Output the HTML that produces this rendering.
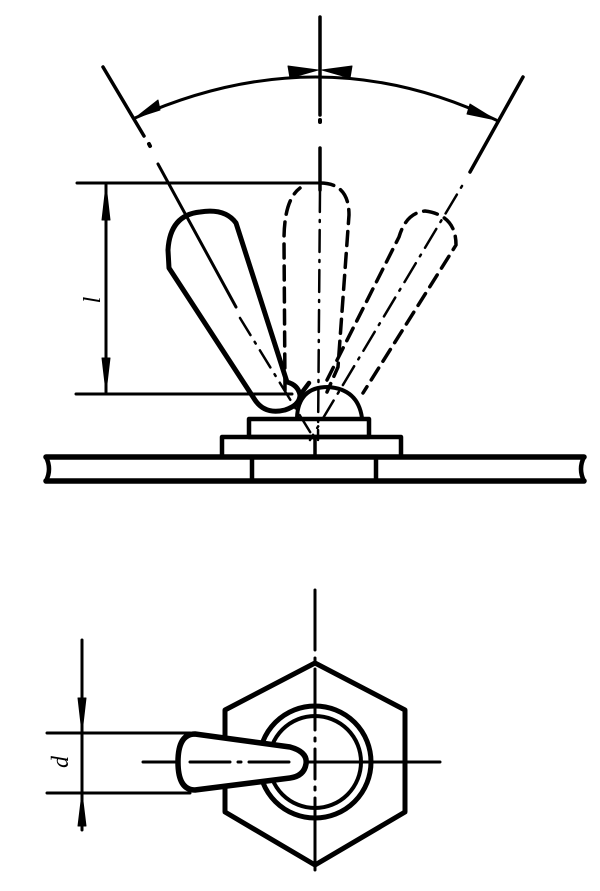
<!DOCTYPE html>
<html><head><meta charset="utf-8"><style>html,body{margin:0;padding:0;background:#fff}svg{display:block}</style></head>
<body>
<svg width="600" height="891" viewBox="0 0 600 891" xmlns="http://www.w3.org/2000/svg" fill="none" stroke="#000" stroke-linecap="round" stroke-linejoin="round">
<line x1="320" y1="17" x2="320" y2="115" stroke-width="3.5"/>
<line x1="320" y1="120" x2="320" y2="132" stroke-width="4" stroke-dasharray="2 14"/>
<line x1="320" y1="148" x2="320" y2="190" stroke-width="3.5"/>
<line x1="320" y1="190" x2="318" y2="440" stroke-width="2.5" stroke-dasharray="22 8 2 8"/>
<line x1="103" y1="67" x2="144" y2="136" stroke-width="3.5"/>
<line x1="149" y1="144" x2="150" y2="146" stroke-width="4"/>
<line x1="158" y1="164" x2="236" y2="307" stroke-width="3"/>
<line x1="240" y1="318" x2="315" y2="440" stroke-width="2.5" stroke-dasharray="20 8 2 8"/>
<line x1="523" y1="77" x2="470" y2="172" stroke-width="3.5"/>
<line x1="462" y1="186" x2="310" y2="440" stroke-width="2.5" stroke-dasharray="2 8 22 8"/>
<path d="M135 118 Q320 35 496 120" stroke-width="3"/>
<polygon points="135,118 158,100 160,110" fill="#000" stroke-width="1"/>
<polygon points="318,70 288,66 290,78" fill="#000" stroke-width="1"/>
<polygon points="322,70 352,66 350,78" fill="#000" stroke-width="1"/>
<polygon points="496,120 470,104 467,114" fill="#000" stroke-width="1"/>
<line x1="77" y1="183" x2="322" y2="183" stroke-width="3"/>
<line x1="76" y1="394" x2="292" y2="394" stroke-width="3"/>
<line x1="106" y1="185" x2="106" y2="392" stroke-width="3"/>
<polygon points="106,185 102,220 110,220" fill="#000" stroke-width="1"/>
<polygon points="106,392 102,358 110,358" fill="#000" stroke-width="1"/>
<text x="0" y="0" transform="translate(100,300) rotate(-90)" font-family="Liberation Serif, serif" font-style="italic" font-size="24" fill="#000" stroke="none" text-anchor="middle">l</text>
<path d="M236 223 Q225 208 200 212 Q170 215 168 250 L169 268 L255 400 Q265 415 285 410 Q300 405 300 395 Q298 385 287 382 Z" stroke-width="5"/>
<path d="M300 395 L309 383" stroke-width="4.5"/>
<path d="M285 390 L284 240 Q284 200 300 188 M320 183 Q349 183 349 215 L338 367 L327 392" stroke-width="3.5" stroke-dasharray="14 8"/>
<path d="M327 380 L399 237 Q406 213 425 211 Q456 215 456 245 L363 393" stroke-width="3.5" stroke-dasharray="14 8"/>
<path d="M297 418 Q298 387 328 387 Q358 389 362 418" stroke-width="4"/>
<rect x="249" y="419" width="120" height="18" stroke-width="4.5"/>
<rect x="222" y="437" width="179" height="20" stroke-width="4.5"/>
<line x1="315" y1="437" x2="315" y2="457" stroke-width="3.5"/>
<path d="M46 457 L584 457 M46 481 L584 481" stroke-width="5.5"/>
<path d="M46 457 Q52 469 46 481 M584 457 Q578 469 584 481" stroke-width="4.5"/>
<line x1="252" y1="457" x2="252" y2="481" stroke-width="4.5"/>
<line x1="376" y1="457" x2="376" y2="481" stroke-width="4.5"/>
<line x1="315" y1="590" x2="315" y2="870" stroke-width="3" stroke-dasharray="60 8 3 8 40 8 3 8 200"/>
<polygon points="315,663 405,710 405,812 315,865 225,812 225,710" stroke-width="5"/>
<circle cx="315" cy="762" r="56" stroke-width="5" fill="#fff"/>
<circle cx="315" cy="762" r="46" stroke-width="4"/>
<line x1="315" y1="700" x2="315" y2="830" stroke-width="3" stroke-dasharray="30 8 3 8"/>
<line x1="143" y1="762" x2="440" y2="762" stroke-width="3" stroke-dasharray="60 8 3 8 300"/>
<path d="M195 734 L290 747 Q308 752 306 764 Q304 776 290 778 L195 790 Q178 790 178 762 Q178 734 195 734 Z" stroke-width="5.5" fill="#fff"/>
<line x1="190" y1="762" x2="300" y2="762" stroke-width="3" stroke-dasharray="40 8 3 8 40"/>
<line x1="47" y1="733" x2="190" y2="733" stroke-width="3"/>
<line x1="47" y1="793" x2="190" y2="793" stroke-width="3"/>
<line x1="82" y1="640" x2="82" y2="830" stroke-width="3"/>
<polygon points="82,733 78,698 86,698" fill="#000" stroke-width="1"/>
<polygon points="82,793 78,826 86,826" fill="#000" stroke-width="1"/>
<text x="0" y="0" transform="translate(68,762) rotate(-90)" font-family="Liberation Serif, serif" font-style="italic" font-size="24" fill="#000" stroke="none" text-anchor="middle">d</text>
</svg>
</body></html>
